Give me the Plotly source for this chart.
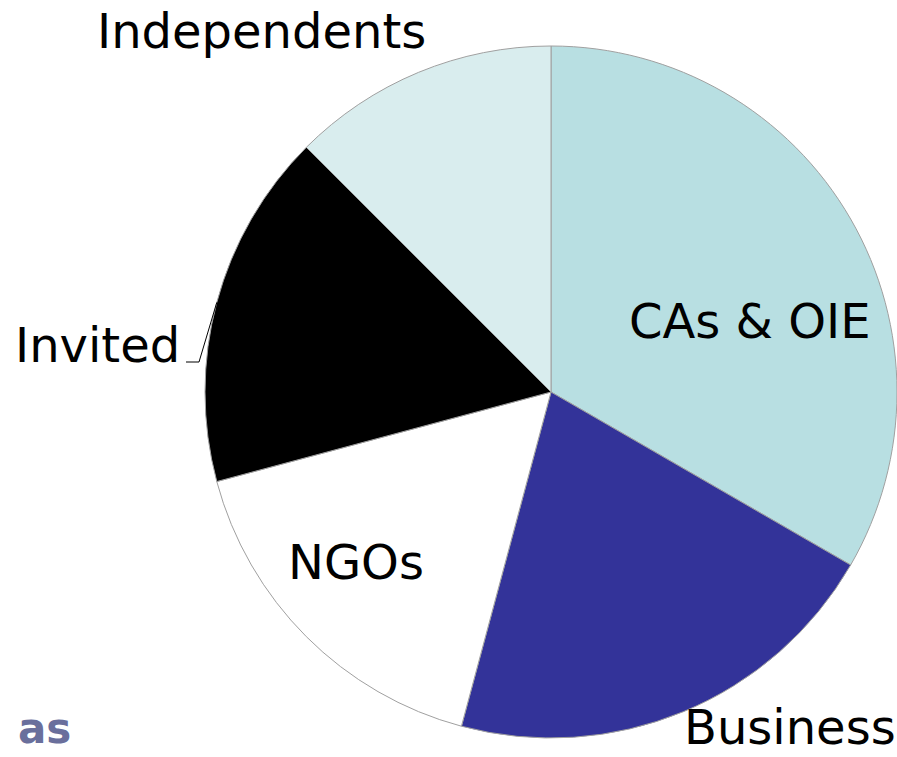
import math
import plotly.graph_objects as go

labels = ["CAs & OIE", "Business", "NGOs", "Invited", "Independents"]
values = [8, 5, 4, 4, 3]
colors = ["#b8dfe2", "#333399", "#ffffff", "#000000", "#d9edee"]
watermark = "as"

W, H = 897, 757

def px(sx):
    return sx / W

def py(sy):
    return 1 - sy / H

# pie placement (screen pixels)
cx_s, cy_s, r_s = 551, 392, 346
dom_x = [px(cx_s - r_s), min(1.0, px(cx_s + r_s))]
dom_y = [py(cy_s + r_s), py(cy_s - r_s)]

fig = go.Figure(
    go.Pie(
        labels=labels,
        values=values,
        sort=False,
        direction="clockwise",
        rotation=0,
        marker=dict(colors=colors, line=dict(color="#a0a0a0", width=1)),
        textinfo="none",
        showlegend=False,
        hoverinfo="label+percent",
        domain=dict(x=dom_x, y=dom_y),
    )
)

FONT = "DejaVu Sans"
FS = 48
# label placements (screen pixels: centre x, middle y)
label_pos = {
    "CAs & OIE": (750, 321),
    "Business": (790, 727),
    "NGOs": (356, 562),
    "Invited": (97, 345),
    "Independents": (261, 31),
}
for lab in labels:
    sx, sy = label_pos[lab]
    fig.add_annotation(
        text=lab, x=px(sx), y=py(sy), xref="paper", yref="paper",
        xanchor="center", yanchor="middle", showarrow=False,
        font=dict(family=FONT, size=FS, color="black"),
    )

# leader line for "Invited", ending on the slice's mid-angle at the pie edge
total = sum(values)
start = sum(values[:3]) / total * 360
mid = math.radians(start + values[3] / total * 360 / 2)
ex = cx_s + r_s * math.sin(mid)
ey = cy_s - r_s * math.cos(mid)
fig.add_shape(
    type="path",
    path=f"M {px(186)},{py(362)} L {px(199)},{py(362)} L {px(ex)},{py(ey)}",
    xref="paper", yref="paper",
    line=dict(color="black", width=1),
)

fig.add_annotation(
    text=f"<b>{watermark}</b>", x=px(44), y=py(728), xref="paper", yref="paper",
    xanchor="center", yanchor="middle", showarrow=False,
    font=dict(family=FONT, size=42, color="#6a6f9c"),
)

fig.update_layout(
    width=W, height=H,
    margin=dict(l=0, r=0, t=0, b=0),
    paper_bgcolor="white", plot_bgcolor="white",
    font=dict(family=FONT),
)

fig.write_html(
    "out.html",
    config={"displayModeBar": False},
    post_script="document.body.style.margin='0';document.body.style.overflow='hidden';",
)
